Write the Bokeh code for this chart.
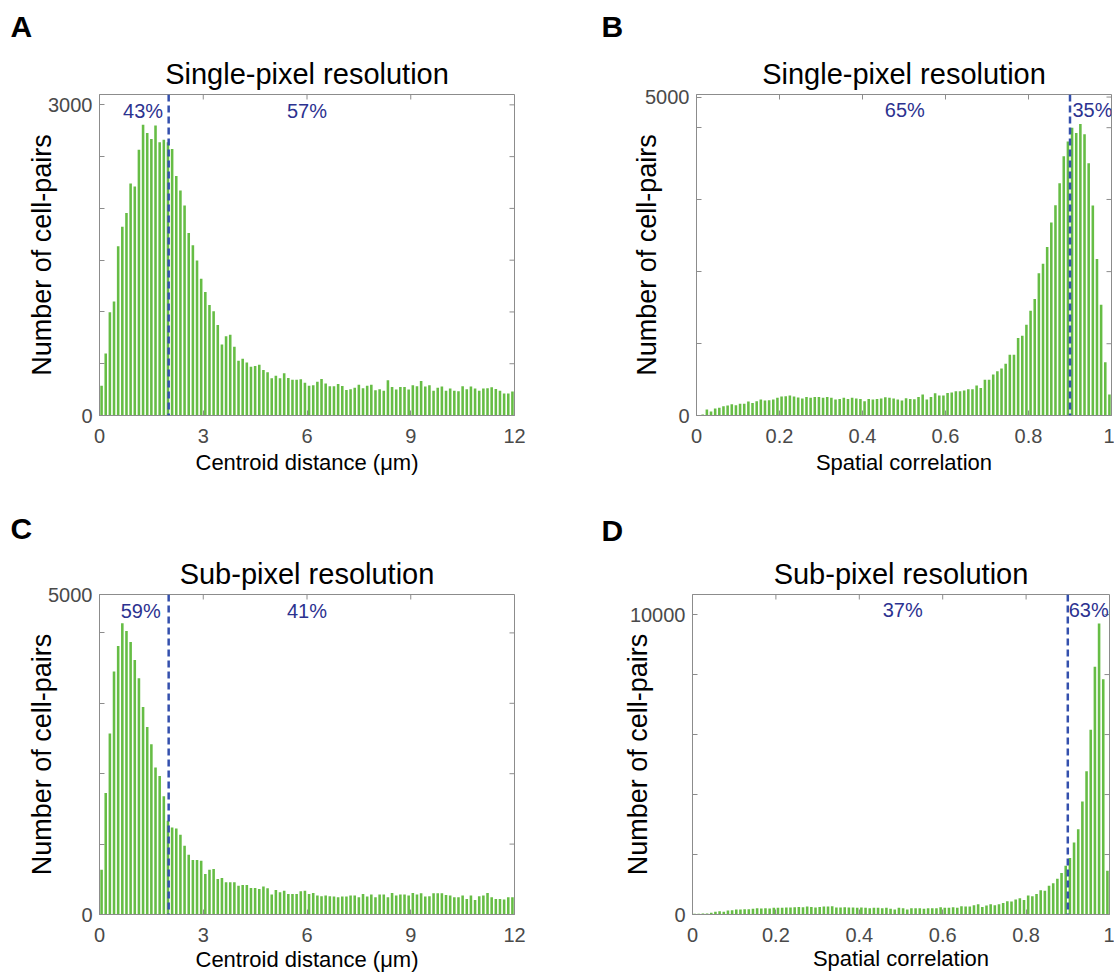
from bokeh.plotting import figure
from bokeh.models import Range1d, LinearAxis, FixedTicker, Span, Label, Title
from bokeh.layouts import column, row
from bokeh.embed import file_html
from bokeh.resources import INLINE
import numpy as np

# ---------------- data ----------------
dist_bin_width = 0.12          # um, 100 bins over 0-12
corr_bin_width = 0.01          # 100 bins over 0-1

single_dist_counts = [288, 599, 997, 1102, 1635, 1824, 1955, 2240, 2211, 2567,
                      2808, 2728, 2670, 2801, 2638, 2663, 2640, 2573, 2314, 2173,
                      2029, 1763, 1644, 1497, 1320, 1192, 1067, 1006, 875, 686,
                      766, 779, 663, 529, 548, 513, 471, 478, 490, 439,
                      417, 359, 385, 359, 407, 362, 346, 346, 349, 317,
                      288, 292, 327, 353, 308, 282, 282, 304, 285, 247,
                      253, 269, 298, 263, 288, 298, 244, 253, 240, 340,
                      276, 250, 276, 276, 250, 292, 282, 333, 279, 292,
                      240, 269, 279, 240, 260, 240, 234, 282, 253, 279,
                      260, 240, 260, 263, 272, 256, 240, 212, 212, 231]

single_corr_counts = [0, 16, 94, 63, 110, 120, 146, 157, 177, 162,
                      183, 183, 219, 198, 224, 250, 235, 240, 250, 277,
                      297, 303, 313, 297, 282, 266, 292, 277, 292, 292,
                      277, 292, 277, 250, 261, 277, 261, 277, 266, 261,
                      224, 261, 250, 261, 266, 287, 277, 266, 250, 235,
                      271, 261, 256, 292, 329, 250, 292, 350, 313, 313,
                      355, 360, 381, 381, 391, 412, 412, 470, 433, 563,
                      563, 642, 694, 736, 814, 955, 955, 1216, 1252, 1424,
                      1643, 1831, 2233, 2384, 2645, 3031, 3302, 3647, 4069, 4304,
                      4518, 4434, 4575, 4414, 3960, 3297, 2457, 1737, 835, 329]

sub_dist_counts = [700, 1898, 2827, 3797, 4196, 4549, 4430, 4259, 3978, 3693,
                   3242, 2931, 2661, 2298, 2163, 1847, 1463, 1359, 1343, 1245,
                   1074, 934, 851, 851, 840, 633, 700, 711, 555, 571,
                   503, 503, 503, 451, 462, 462, 415, 415, 399, 436,
                   410, 311, 384, 348, 373, 322, 322, 322, 363, 373,
                   322, 337, 296, 285, 296, 285, 280, 270, 280, 280,
                   296, 296, 270, 322, 280, 311, 270, 311, 311, 270,
                   337, 296, 311, 311, 296, 337, 311, 332, 280, 285,
                   332, 332, 332, 306, 296, 270, 270, 296, 244, 296,
                   228, 285, 296, 337, 270, 244, 244, 233, 270, 270]

sub_corr_counts = [22, 22, 33, 33, 55, 88, 111, 88, 133, 144,
                   166, 166, 177, 177, 188, 210, 199, 210, 199, 221,
                   221, 221, 232, 232, 243, 254, 243, 265, 254, 232,
                   254, 265, 265, 277, 232, 232, 243, 232, 232, 221,
                   232, 221, 210, 221, 221, 210, 221, 188, 166, 221,
                   210, 166, 210, 210, 210, 188, 210, 210, 210, 243,
                   221, 221, 243, 221, 277, 265, 265, 310, 343, 254,
                   299, 343, 310, 343, 387, 442, 431, 498, 542, 487,
                   630, 608, 686, 807, 796, 962, 1040, 1194, 1383, 1626,
                   1880, 2400, 2842, 3771, 4778, 6160, 8262, 9700, 7841, 1460]

dist_ticks = [0, 3, 6, 9, 12]
corr_ticks = [0, 0.2, 0.4, 0.6, 0.8, 1]
corr_tick_labels = ["0", "0.2", "0.4", "0.6", "0.8", "1"]

dist_threshold = 2.0
corr_threshold = 0.9

pct_A = ["43%", "57%"]
pct_B = ["65%", "35%"]
pct_C = ["59%", "41%"]
pct_D = ["37%", "63%"]

# ---------------- style ----------------
FONT = "Liberation Sans"
GREEN = "#66bd45"
BLUE_LINE = "#3450ad"
BLUE_TEXT = "#2c3290"
GRAY = "#8c8c8c"
TICK_TXT = "#4a4a4a"


def make_axis(ticks, minor, overrides=None):
    ax = LinearAxis(ticker=FixedTicker(ticks=ticks, minor_ticks=minor))
    ax.axis_line_color = GRAY
    ax.major_tick_line_color = GRAY
    ax.minor_tick_line_color = GRAY
    ax.major_tick_in = 5
    ax.major_tick_out = 0
    ax.minor_tick_in = 5
    ax.minor_tick_out = 0
    ax.major_label_text_font = FONT
    ax.major_label_text_font_size = "20px"
    ax.major_label_text_color = TICK_TXT
    if overrides:
        ax.major_label_overrides = overrides
    return ax


def panel(counts, bin_w, xmax, ymax, xticks, ytick_major, ytick_minor, thr,
          title, xlabel, pct_texts, pct_pos, letter, letter_offset, letter_standoff,
          letter_valign, w, h, borders, xover=None, ylab_standoff=-10, xlab_standoff=1):
    bl, br, bt, bb = borders
    p = figure(width=w, height=h, x_range=Range1d(0, xmax), y_range=Range1d(0, ymax),
               output_backend="svg", toolbar_location=None,
               x_axis_location=None, y_axis_location=None,
               min_border_left=bl, min_border_right=br,
               min_border_top=bt, min_border_bottom=bb)
    p.title_location = None
    p.outline_line_color = GRAY
    p.outline_line_width = 1
    for g in p.grid:
        g.visible = False
    p.background_fill_color = "white"
    p.border_fill_color = "white"

    bottom = make_axis(xticks, [], xover)
    bottom.major_label_standoff = 13
    bottom.axis_label = xlabel
    bottom.axis_label_text_font = FONT
    bottom.axis_label_text_font_size = "22px"
    bottom.axis_label_text_font_style = "normal"
    bottom.axis_label_text_color = "black"
    bottom.axis_label_standoff = xlab_standoff
    p.add_layout(bottom, "below")

    left = make_axis(ytick_major, ytick_minor)
    left.major_label_standoff = 7
    left.axis_label = "Number of cell-pairs"
    left.axis_label_text_font = FONT
    left.axis_label_text_font_size = "27px"
    left.axis_label_text_font_style = "normal"
    left.axis_label_text_color = "black"
    left.axis_label_standoff = ylab_standoff
    p.add_layout(left, "left")

    # inward ticks on the top and right edges of the box
    all_y = list(ytick_major) + list(ytick_minor)
    p.ray(x=list(xticks), y=[ymax] * len(xticks), length=5, length_units="screen",
          angle=-np.pi / 2, line_color=GRAY, line_width=1)
    p.ray(x=[xmax] * len(all_y), y=all_y, length=5, length_units="screen",
          angle=np.pi, line_color=GRAY, line_width=1)

    centers = (np.arange(len(counts)) + 0.5) * bin_w
    p.vbar(x=centers, top=counts, width=bin_w * 0.62, bottom=0,
           fill_color=GREEN, line_color=None)

    p.add_layout(Span(location=thr, dimension="height", line_color=BLUE_LINE,
                      line_dash="7 4", line_width=2.5))

    for txt, (px, py) in zip(pct_texts, pct_pos):
        p.add_layout(Label(x=px, y=py, text=txt, text_font=FONT, text_font_size="20px",
                           text_color=BLUE_TEXT, text_align="center",
                           text_baseline="middle"))

    main_title = Title(text=title, text_font=FONT, text_font_size="29px",
                       text_font_style="normal", align="center", text_color="black",
                       standoff=9)
    letter_title = Title(text=letter, text_font=FONT, text_font_size="30px",
                         text_font_style="bold", align="left", text_color="black",
                         offset=letter_offset, standoff=letter_standoff,
                         vertical_align=letter_valign)
    p.add_layout(main_title, "above")
    p.add_layout(letter_title, "above")
    return p


corr_over = {t: s for t, s in zip(corr_ticks, corr_tick_labels)}

pA = panel(single_dist_counts, dist_bin_width, 12, 3100, dist_ticks, [0, 3000],
           [500, 1000, 1500, 2000, 2500], dist_threshold,
           "Single-pixel resolution", "Centroid distance (\u03bcm)",
           pct_A, [(1.26, 2940), (6.0, 2940)], "A", -89, 13, "top",
           557, 489, (99, 43, 93, 74), ylab_standoff=-12, xlab_standoff=4)

pB = panel(single_corr_counts, corr_bin_width, 1, 5040, corr_ticks, [0, 5000],
           [1127, 2259, 3392, 4519], corr_threshold,
           "Single-pixel resolution", "Spatial correlation",
           pct_B, [(0.502, 4790), (0.954, 4790)], "B", -95, 13, "top",
           557, 489, (139, 3, 94, 73), xover=corr_over, ylab_standoff=-20, xlab_standoff=4)

pC = panel(sub_dist_counts, dist_bin_width, 12, 5000, dist_ticks, [0, 5000],
           [1100, 2200, 3300, 4400], dist_threshold,
           "Sub-pixel resolution", "Centroid distance (\u03bcm)",
           pct_C, [(1.19, 4750), (6.0, 4750)], "C", -89, 14, "bottom",
           557, 490, (99, 43, 104, 65), ylab_standoff=-12, xlab_standoff=2)

pD = panel(sub_corr_counts, corr_bin_width, 1, 10670, corr_ticks, [0, 10000],
           [2000, 4000, 6000, 8000], corr_threshold,
           "Sub-pixel resolution", "Spatial correlation",
           pct_D, [(0.504, 10143), (0.95, 10143)], "D", -91, 10, "bottom",
           557, 490, (135, 5, 105, 63), xover=corr_over, ylab_standoff=-26, xlab_standoff=1)

layout = column(row(pA, pB), row(pC, pD))
open("out.html", "w").write(file_html(layout, INLINE))
